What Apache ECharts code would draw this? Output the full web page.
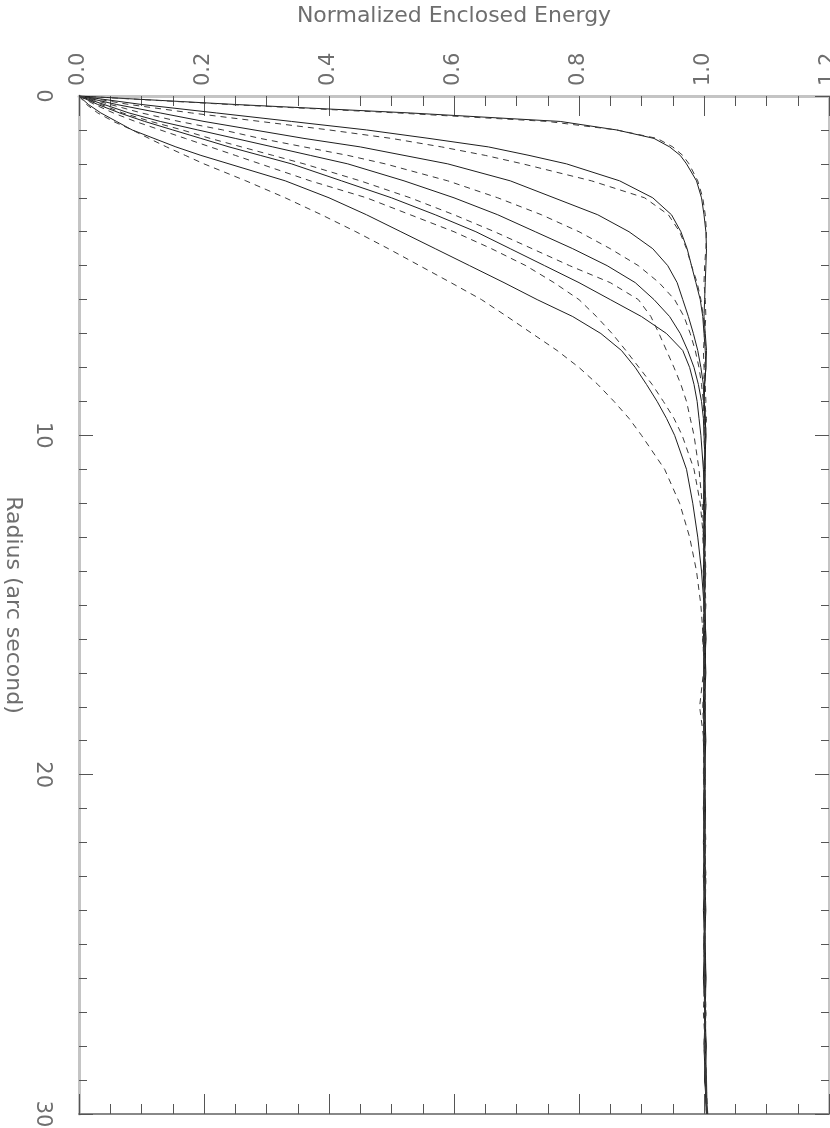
<!DOCTYPE html>
<html>
<head>
<meta charset="utf-8">
<script src="https://cdn.jsdelivr.net/npm/echarts@6/dist/echarts.min.js"></script>
<style>
  html, body { margin: 0; padding: 0; background: #fff; }
  #chart { width: 830px; height: 1128px; }
</style>
</head>
<body>
<div id="chart"></div>
<script>
// radius (arc second), shared by every curve
const radius = [0, 0.25, 0.5, 0.75, 1, 1.25, 1.5, 1.75, 2, 2.5, 3, 3.5, 4, 4.5, 5, 5.5, 6, 6.5, 7, 7.5, 8, 8.5, 9, 9.5, 10,
  11, 12, 13, 14, 15, 16, 17, 18, 19, 20, 21, 22, 23, 24, 25, 26, 27, 28, 29, 30]

// normalized enclosed energy, solid curves
const solid1 = [0, 0.25, 0.53, 0.77, 0.86, 0.92, 0.945, 0.962, 0.972, 0.988, 0.996, 1.0, 1.003, 1.004, 1.003, 1.002, 1.001, 1.0, 1.002, 1.004, 1.003, 1.001, 1.0, 1.001, 1.002,
  1.0, 1.003, 1.001, 0.999, 1.002, 1.0, 1.002, 1.001, 0.999, 1.001, 1.002, 1.0, 1.001, 1.003, 1.0, 1.002, 1.001, 1.003, 1.002, 1.005]
const solid2 = [0, 0.1, 0.22, 0.34, 0.46, 0.56, 0.655, 0.72, 0.78, 0.865, 0.918, 0.948, 0.963, 0.973, 0.98, 0.987, 0.994, 0.998, 1.0, 1.002, 1.003, 1.001, 1.0, 1.002, 1.003,
  1.001, 0.999, 1.002, 1.0, 1.001, 1.003, 1.0, 0.999, 1.001, 1.002, 1.0, 1.002, 1.001, 0.999, 1.002, 1.003, 1.001, 1.002, 1.004, 1.005]
const solid3 = [0, 0.06, 0.13, 0.2, 0.28, 0.36, 0.45, 0.52, 0.59, 0.69, 0.76, 0.83, 0.88, 0.918, 0.942, 0.957, 0.966, 0.975, 0.983, 0.99, 0.995, 0.999, 1.0, 1.002, 1.003,
  1.001, 1.0, 1.002, 0.999, 1.001, 1.003, 1.001, 1.0, 1.002, 1.001, 0.999, 1.001, 1.002, 1.0, 1.001, 1.003, 1.002, 1.0, 1.002, 1.004]
const solid4 = [0, 0.04, 0.08, 0.13, 0.19, 0.25, 0.31, 0.37, 0.43, 0.52, 0.6, 0.67, 0.73, 0.79, 0.845, 0.89, 0.92, 0.945, 0.962, 0.974, 0.984, 0.991, 0.996, 0.999, 1.0,
  1.002, 1.001, 0.999, 1.002, 1.0, 1.001, 1.003, 1.0, 1.001, 1.0, 1.002, 1.001, 1.0, 1.002, 1.001, 0.999, 1.002, 1.003, 1.001, 1.005]
const solid5 = [0, 0.03, 0.065, 0.105, 0.15, 0.195, 0.24, 0.29, 0.34, 0.42, 0.5, 0.57, 0.635, 0.69, 0.745, 0.8, 0.85, 0.9, 0.94, 0.966, 0.977, 0.984, 0.989, 0.992, 0.995,
  0.999, 1.001, 1.0, 1.002, 1.001, 0.999, 1.0, 1.002, 1.001, 1.0, 1.001, 0.999, 1.002, 1.001, 1.0, 1.002, 1.001, 1.003, 1.002, 1.004]
const solid6 = [0, 0.015, 0.035, 0.06, 0.085, 0.12, 0.155, 0.195, 0.24, 0.33, 0.4, 0.46, 0.515, 0.57, 0.625, 0.68, 0.733, 0.79, 0.835, 0.868, 0.89, 0.908, 0.925, 0.94, 0.953,
  0.972, 0.982, 0.99, 0.996, 1.0, 1.002, 1.0, 1.001, 1.003, 1.0, 1.002, 1.001, 0.999, 1.002, 1.001, 1.0, 1.002, 1.003, 1.002, 1.005]

// normalized enclosed energy, dashed curves
const dashed1 = [0, 0.24, 0.51, 0.75, 0.86, 0.925, 0.95, 0.966, 0.976, 0.99, 0.998, 1.002, 1.004, 1.003, 1.001, 1.0, 1.002, 1.003, 1.001, 0.999, 1.0, 1.002, 1.003, 1.001, 1.0,
  1.002, 0.999, 1.001, 1.003, 1.0, 0.998, 1.001, 1.002, 1.0, 1.002, 1.0, 1.001, 1.003, 1.001, 1.0, 1.002, 1.003, 1.001, 1.004, 1.004]
const dashed2 = [0, 0.08, 0.18, 0.29, 0.4, 0.5, 0.58, 0.65, 0.71, 0.82, 0.905, 0.943, 0.961, 0.972, 0.98, 0.989, 0.995, 0.999, 1.001, 1.003, 1.001, 0.999, 1.001, 1.004, 1.002,
  1.0, 1.001, 0.998, 1.001, 1.003, 1.0, 1.002, 1.0, 0.999, 1.002, 1.001, 1.0, 1.003, 1.002, 1.0, 1.001, 1.003, 1.002, 1.003, 1.006]
const dashed3 = [0, 0.05, 0.1, 0.16, 0.23, 0.29, 0.36, 0.43, 0.49, 0.59, 0.67, 0.74, 0.8, 0.85, 0.895, 0.928, 0.953, 0.968, 0.978, 0.986, 0.992, 0.996, 0.999, 1.0, 1.002,
  1.0, 1.003, 1.001, 0.999, 1.0, 1.002, 1.001, 0.998, 1.0, 1.002, 1.001, 0.999, 1.002, 1.001, 1.0, 1.002, 1.001, 1.003, 1.002, 1.004]
const dashed4 = [0, 0.035, 0.07, 0.115, 0.165, 0.21, 0.26, 0.31, 0.36, 0.45, 0.53, 0.6, 0.665, 0.725, 0.785, 0.85, 0.895, 0.915, 0.928, 0.94, 0.952, 0.963, 0.972, 0.978, 0.984,
  0.992, 0.997, 1.0, 1.002, 1.0, 0.998, 1.001, 1.002, 1.0, 0.999, 1.001, 1.003, 1.0, 1.001, 1.002, 1.0, 1.001, 1.002, 1.003, 1.004]
const dashed5 = [0, 0.025, 0.055, 0.09, 0.13, 0.17, 0.21, 0.25, 0.29, 0.37, 0.46, 0.53, 0.6, 0.66, 0.715, 0.76, 0.8, 0.828, 0.853, 0.875, 0.896, 0.917, 0.935, 0.952, 0.965,
  0.984, 0.994, 0.999, 1.001, 1.0, 1.002, 0.999, 0.993, 1.0, 1.002, 1.0, 1.001, 0.999, 1.002, 1.0, 1.001, 1.002, 1.0, 1.003, 1.004]
const dashed6 = [0, 0.012, 0.03, 0.055, 0.085, 0.112, 0.14, 0.17, 0.2, 0.267, 0.33, 0.388, 0.443, 0.495, 0.545, 0.595, 0.644, 0.685, 0.725, 0.765, 0.8, 0.83, 0.856, 0.88, 0.9,
  0.937, 0.961, 0.977, 0.988, 0.995, 0.999, 1.0, 1.002, 1.0, 1.001, 0.999, 1.002, 1.001, 1.0, 1.002, 1.001, 0.999, 1.002, 1.003, 1.004]

const solidCurves = [solid1, solid2, solid3, solid4, solid5, solid6]
const dashedCurves = [dashed1, dashed2, dashed3, dashed4, dashed5, dashed6]

const textColor = '#6e6e6e'
const fontFamily = 'DejaVu Sans'

const makeSeries = (values, dashed) => ({
  type: 'line',
  data: radius.map((r, i) => [values[i], r]),
  showSymbol: false,
  symbol: 'none',
  smooth: false,
  lineStyle: {
    width: 1,
    color: dashed ? '#3a3a3a' : '#1e1e1e',
    type: dashed ? [6, 5] : 'solid'
  }
})

const series = []
solidCurves.forEach(c => series.push(makeSeries(c, false)))
dashedCurves.forEach(c => series.push(makeSeries(c, true)))

const chart = echarts.init(document.getElementById('chart'))
chart.setOption({
  animation: false,
  backgroundColor: '#fff',
  grid: { left: 79, right: 1, top: 96, bottom: 14, containLabel: false, outerBoundsMode: 'none' },
  xAxis: [
    {
      type: 'value',
      position: 'top',
      min: 0,
      max: 1.2,
      interval: 0.2,
      name: 'Normalized Enclosed Energy',
      nameLocation: 'middle',
      nameGap: 69,
      nameTextStyle: { color: textColor, fontSize: 22, fontFamily },
      axisLine: { show: true, onZero: false, lineStyle: { color: '#c4c4c4', width: 3 } },
      axisTick: { show: true, inside: true, length: 20, lineStyle: { color: '#555' } },
      minorTick: { show: true, splitNumber: 4, length: 10, lineStyle: { color: '#555' } },
      axisLabel: {
        rotate: -90,
        margin: 10,
        color: textColor,
        fontSize: 21,
        fontFamily,
        formatter: v => v.toFixed(1)
      },
      splitLine: { show: false }
    },
    {
      type: 'value',
      position: 'bottom',
      min: 0,
      max: 1.2,
      interval: 0.2,
      axisLine: { show: true, onZero: false, lineStyle: { color: '#888', width: 2 } },
      axisTick: { show: true, inside: true, length: 20, lineStyle: { color: '#555' } },
      minorTick: { show: true, splitNumber: 4, length: 10, lineStyle: { color: '#555' } },
      axisLabel: { show: false },
      splitLine: { show: false }
    }
  ],
  yAxis: [
    {
      type: 'value',
      position: 'left',
      inverse: true,
      min: 0,
      max: 30,
      interval: 10,
      name: 'Radius (arc second)',
      nameLocation: 'middle',
      nameRotate: -90,
      nameGap: 50,
      nameTextStyle: { color: textColor, fontSize: 22, fontFamily },
      axisLine: { show: true, onZero: false, lineStyle: { color: '#c4c4c4', width: 3 } },
      axisTick: { show: true, inside: true, length: 14, lineStyle: { color: '#555' } },
      minorTick: { show: true, splitNumber: 10, length: 8, lineStyle: { color: '#555' } },
      axisLabel: { rotate: -90, margin: 26, color: textColor, fontSize: 21, fontFamily },
      splitLine: { show: false }
    },
    {
      type: 'value',
      position: 'right',
      inverse: true,
      min: 0,
      max: 30,
      interval: 10,
      axisLine: { show: true, onZero: false, lineStyle: { color: '#c4c4c4', width: 2 } },
      axisTick: { show: true, inside: true, length: 14, lineStyle: { color: '#555' } },
      minorTick: { show: true, splitNumber: 10, length: 8, lineStyle: { color: '#555' } },
      axisLabel: { show: false },
      splitLine: { show: false }
    }
  ],
  series
})
</script>
</body>
</html>
